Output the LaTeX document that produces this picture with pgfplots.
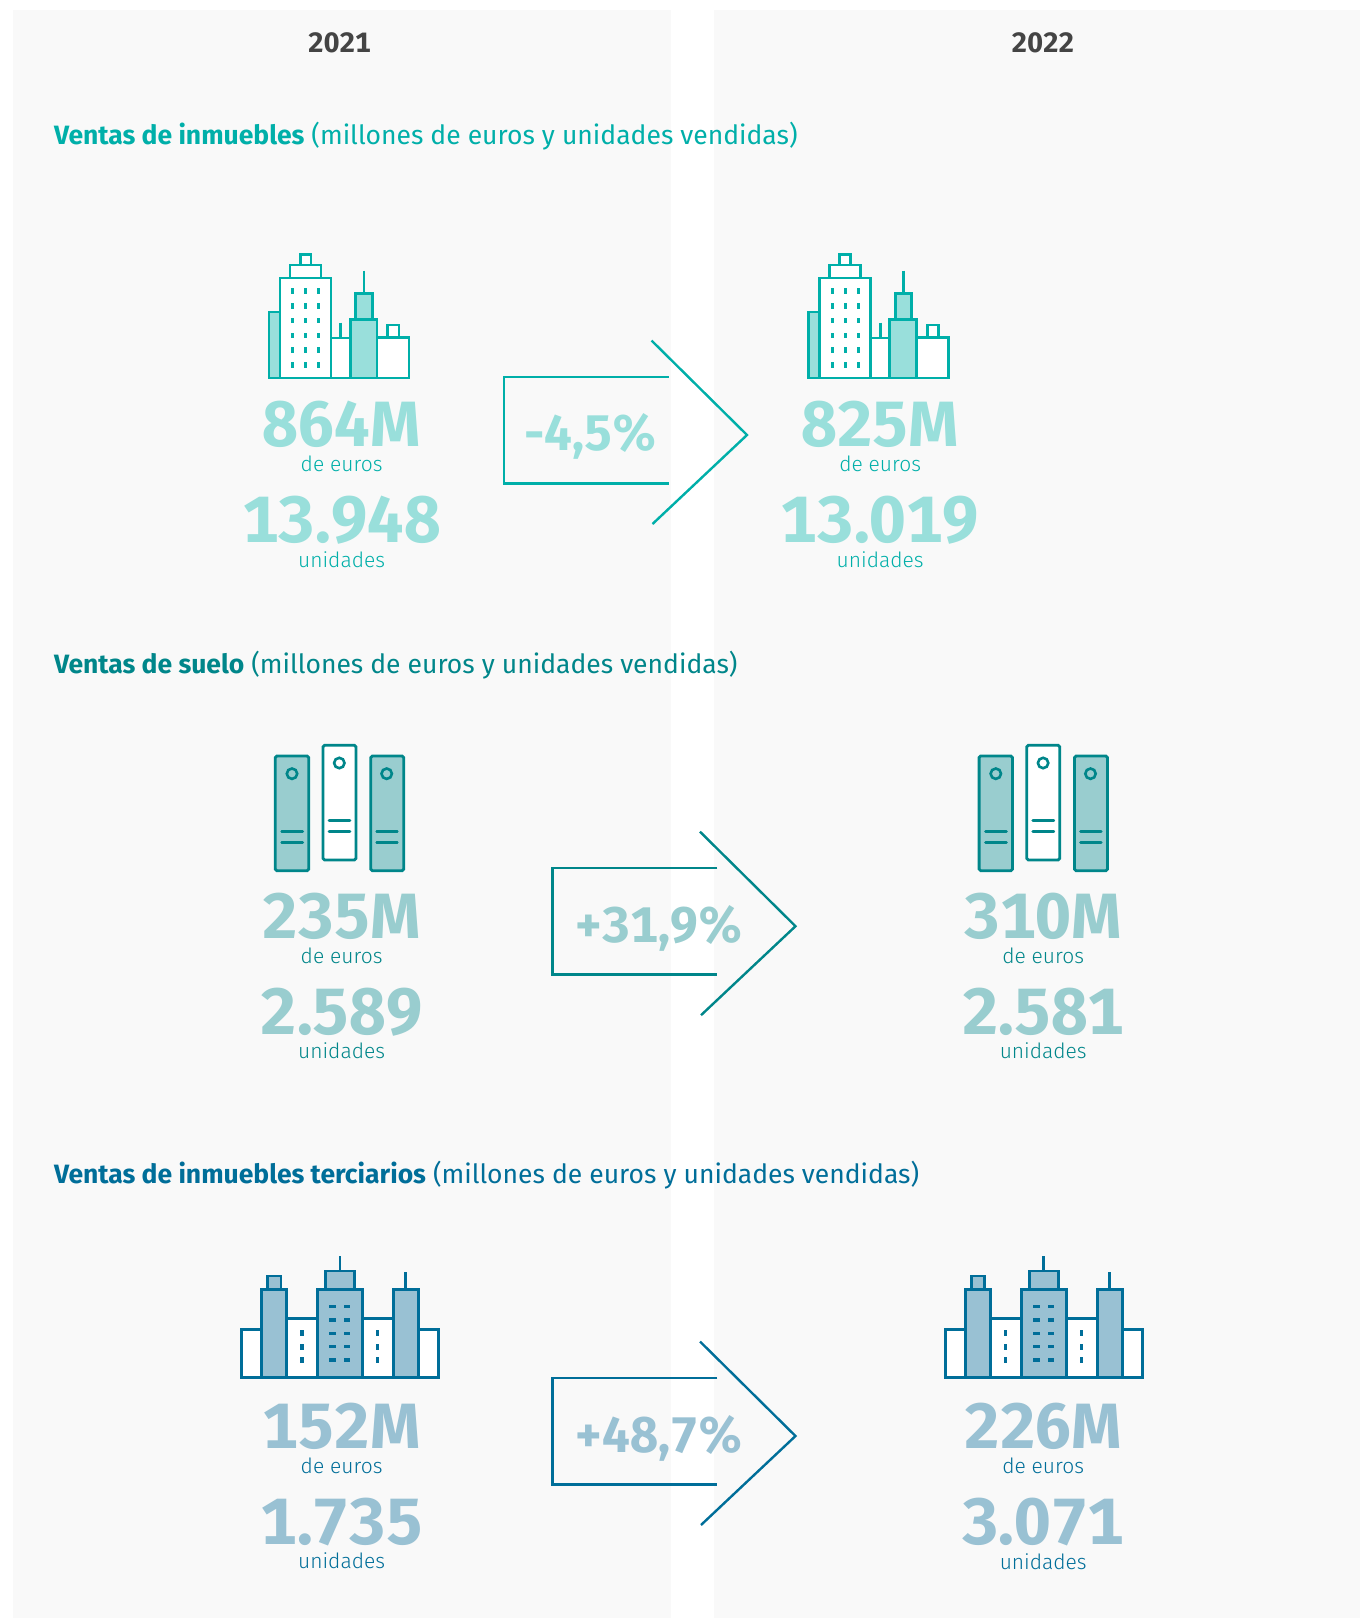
\documentclass[border=0pt]{standalone}
\usepackage{pgfplots}
\pgfplotsset{compat=1.18}
\usepackage{fontspec}
\setmainfont{Fira Sans}[Numbers=Monospaced]
\newfontfamily\lightf[UprightFont={* Light}]{Fira Sans}

\definecolor{panel}{HTML}{F9F9F9}
\definecolor{c1}{HTML}{00AFA9}\definecolor{l1}{HTML}{99DFDB}
\definecolor{c2}{HTML}{00868A}\definecolor{l2}{HTML}{99CDCF}
\definecolor{c3}{HTML}{006E99}\definecolor{l3}{HTML}{99C1D3}
\definecolor{year}{HTML}{444444}

\pgfplotsset{
  off/.style 2 args={x filter/.expression={x+#1},y filter/.expression={y+#2}},
  ln/.style={line width=1.4pt,line join=miter}
}
% #1 options, corners x0 y0 x1 y1
\newcommand{\rect}[5]{\addplot[ln,#1] coordinates {(#2,#3)(#4,#3)(#4,#5)(#2,#5)} --cycle;}
\newcommand{\seg}[5]{\addplot[ln,#1] coordinates {(#2,#3)(#4,#5)};}

% teal city
\newcommand{\cityA}[2]{%
  \rect{off={#1}{#2},draw=c1,fill=l1}{39}{72}{50}{138}
  \rect{off={#1}{#2},draw=c1,fill=white}{70.3}{14.3}{81}{25}
  \rect{off={#1}{#2},draw=c1,fill=white}{60}{25}{91}{38}
  \rect{off={#1}{#2},draw=c1,fill=white}{50}{38}{101}{138}
  \addplot[off={#1}{#2},c1,only marks,mark=square*,mark size=1pt,mark options={line width=0pt,xscale=.55,yscale=1.15}]
    coordinates {(62.7,51)(75.7,51)(88.7,51)(62.7,65.7)(75.7,65.7)(88.7,65.7)
      (62.7,80.3)(75.7,80.3)(88.7,80.3)(62.7,95.3)(75.7,95.3)(88.7,95.3)
      (62.7,110)(75.7,110)(88.7,110)(62.7,124.7)(75.7,124.7)(88.7,124.7)};
  \seg{off={#1}{#2},draw=c1}{110.7}{82.7}{110.7}{98}
  \rect{off={#1}{#2},draw=c1,fill=white}{101}{98}{120}{138}
  \seg{off={#1}{#2},draw=c1}{134}{30.7}{134}{53.3}
  \rect{off={#1}{#2},draw=c1,fill=l1}{125.7}{53.3}{142.3}{79.3}
  \rect{off={#1}{#2},draw=c1,fill=l1}{120.3}{79.3}{147}{138}
  \rect{off={#1}{#2},draw=c1,fill=white}{157.7}{85}{169}{97.7}
  \rect{off={#1}{#2},draw=c1,fill=white}{147}{97.7}{179}{138}
}
% binders
\newcommand{\binders}[2]{%
  \rect{off={#1}{#2},draw=c2,fill=l2,rounded corners=.8pt}{25.3}{26}{58.7}{140.7}
  \rect{off={#1}{#2},draw=c2,fill=white,rounded corners=.8pt}{73}{15.3}{106}{130}
  \rect{off={#1}{#2},draw=c2,fill=l2,rounded corners=.8pt}{120.7}{26}{153.7}{140.7}
  \addplot[off={#1}{#2},only marks,mark=*,mark size=2.6pt,mark options={draw=c2,fill=l2,line width=1.3pt}]
    coordinates {(42,43.7)(136.7,43.7)};
  \addplot[off={#1}{#2},only marks,mark=*,mark size=2.6pt,mark options={draw=c2,fill=white,line width=1.3pt}]
    coordinates {(89.3,33)};
  \seg{off={#1}{#2},draw=c2,line cap=round}{31.7}{101.3}{52.7}{101.3}
  \seg{off={#1}{#2},draw=c2,line cap=round}{31.7}{112.3}{52.7}{112.3}
  \seg{off={#1}{#2},draw=c2,line cap=round}{79}{90.7}{100}{90.7}
  \seg{off={#1}{#2},draw=c2,line cap=round}{79}{101.7}{100}{101.7}
  \seg{off={#1}{#2},draw=c2,line cap=round}{126.7}{101.3}{147.3}{101.3}
  \seg{off={#1}{#2},draw=c2,line cap=round}{126.7}{112.3}{147.3}{112.3}
}
% blue city
\newcommand{\cityC}[2]{%
  \rect{off={#1}{#2},draw=c3,fill=white}{11.7}{84.3}{31.7}{132.7}
  \rect{off={#1}{#2},draw=c3,fill=white}{188.3}{84.3}{208.3}{132.7}
  \rect{off={#1}{#2},draw=c3,fill=white}{56.7}{73.3}{87.3}{132.7}
  \rect{off={#1}{#2},draw=c3,fill=white}{132.7}{73.3}{163.3}{132.7}
  \rect{off={#1}{#2},draw=c3,fill=l3}{37.7}{31}{51}{44.3}
  \rect{off={#1}{#2},draw=c3,fill=l3}{31.7}{44.3}{56.7}{132.7}
  \seg{off={#1}{#2},draw=c3}{110}{11}{110}{26}
  \rect{off={#1}{#2},draw=c3,fill=l3}{95.7}{26}{124.3}{44.3}
  \rect{off={#1}{#2},draw=c3,fill=l3}{87.3}{44.3}{132.7}{132.7}
  \seg{off={#1}{#2},draw=c3}{175.7}{27.3}{175.7}{44.3}
  \rect{off={#1}{#2},draw=c3,fill=l3}{163.3}{44.3}{188.3}{132.7}
  \addplot[off={#1}{#2},c3,only marks,mark=square*,mark size=1pt,mark options={line width=0pt,xscale=.55,yscale=1.3}]
    coordinates {(72,88.3)(72,101.7)(72,115)(147.7,88.3)(147.7,101.7)(147.7,115)};
  \addplot[off={#1}{#2},c3,only marks,mark=square*,mark size=1pt,mark options={line width=0pt,xscale=1.4,yscale=.6}]
    coordinates {(102.7,61.7)(117,61.7)(102.7,75)(117,75)(102.7,88.3)(117,88.3)
      (102.7,101.7)(117,101.7)(102.7,115)(117,115)};
}
% arrow: dx dy colour, lightcolour, text centre x, text baseline, text
\newcommand{\arrow}[7]{%
  \addplot[off={#1}{#2},ln,line width=1.2pt,draw=#3] coordinates {(668.8,376.7)(503.8,376.7)(503.8,483.3)(668.8,483.3)};
  \addplot[off={#1}{#2},ln,line width=1.2pt,draw=#3] coordinates {(651.5,340.5)(747,435)(652.5,524)};
  \node[anchor=base,inner sep=0pt,text=#4,font=\fontsize{25}{25}\selectfont\bfseries] at (axis cs:#5,#6) {#7};
}
% x, four baselines, big1, big2, colour, lightcolour
\newcommand{\stat}[9]{%
  \node[anchor=base,inner sep=0pt,text=#8,font=\fontsize{32}{32}\selectfont\bfseries] at (axis cs:#1,#2) {#6};
  \node[anchor=base,inner sep=0pt,text=#9,font=\fontsize{10.5}{11}\lightf] at (axis cs:#1,#3) {de euros};
  \node[anchor=base,inner sep=0pt,text=#8,font=\fontsize{32.7}{33}\selectfont\bfseries] at (axis cs:#1,#4) {#7};
  \node[anchor=base,inner sep=0pt,text=#9,font=\fontsize{10.5}{11}\lightf] at (axis cs:#1,#5) {unidades};
}

\begin{document}
\begin{tikzpicture}
\begin{axis}[
    width=680pt,height=809pt,scale only axis,
    xmin=0,xmax=1360,ymin=0,ymax=1618,
    y dir=reverse,hide axis,clip=false
]
  \addplot[draw=none,fill=white] coordinates {(0,0)(1360,0)(1360,1618)(0,1618)} --cycle;
  \addplot[draw=none,fill=panel] coordinates {(12.5,10)(671,10)(671,1618)(12.5,1618)} --cycle;
  \addplot[draw=none,fill=panel] coordinates {(714,10)(1360,10)(1360,1618)(714,1618)} --cycle;

  \node[anchor=base,inner sep=0pt,text=year,font=\fontsize{14}{14}\selectfont\bfseries] at (axis cs:339.5,52.5) {2021};
  \node[anchor=base,inner sep=0pt,text=year,font=\fontsize{14}{14}\selectfont\bfseries] at (axis cs:1043,52.5) {2022};

  \node[anchor=base west,inner sep=0pt,text=c1,font=\fontsize{13.25}{14}\selectfont] at (axis cs:53.7,144) {\textbf{Ventas de inmuebles} (millones de euros y unidades vendidas)};
  \node[anchor=base west,inner sep=0pt,text=c2,font=\fontsize{13.25}{14}\selectfont] at (axis cs:53.7,673.5) {\textbf{Ventas de suelo} (millones de euros y unidades vendidas)};
  \node[anchor=base west,inner sep=0pt,text=c3,font=\fontsize{13.25}{14}\selectfont] at (axis cs:53.7,1183) {\textbf{Ventas de inmuebles terciarios} (millones de euros y unidades vendidas)};

  \cityA{230}{240}
  \cityA{769.5}{240}
  \binders{250}{730}
  \binders{953.8}{730}
  \cityC{230}{1245}
  \cityC{933.8}{1245}

  \arrow{0}{0}{c1}{l1}{591}{450}{-4,5\%}
  \arrow{48.5}{491.2}{c2}{l2}{658.5}{942.5}{+31,9\%}
  \arrow{48.5}{1001}{c3}{l3}{658.5}{1452}{+48,7\%}

  \stat{341.6}{446}{471.7}{542.7}{567.7}{864M}{13.948}{l1}{c1}
  \stat{880.2}{446}{471.7}{542.7}{567.7}{825M}{13.019}{l1}{c1}
  \stat{341.6}{938}{963.7}{1034.7}{1058.7}{235M}{2.589}{l2}{c2}
  \stat{1043.2}{938}{963.7}{1034.7}{1058.7}{310M}{2.581}{l2}{c2}
  \stat{341.6}{1448}{1473.7}{1544.7}{1568.7}{152M}{1.735}{l3}{c3}
  \stat{1043.2}{1448}{1473.7}{1544.7}{1569.7}{226M}{3.071}{l3}{c3}
\end{axis}
\end{tikzpicture}
\end{document}
